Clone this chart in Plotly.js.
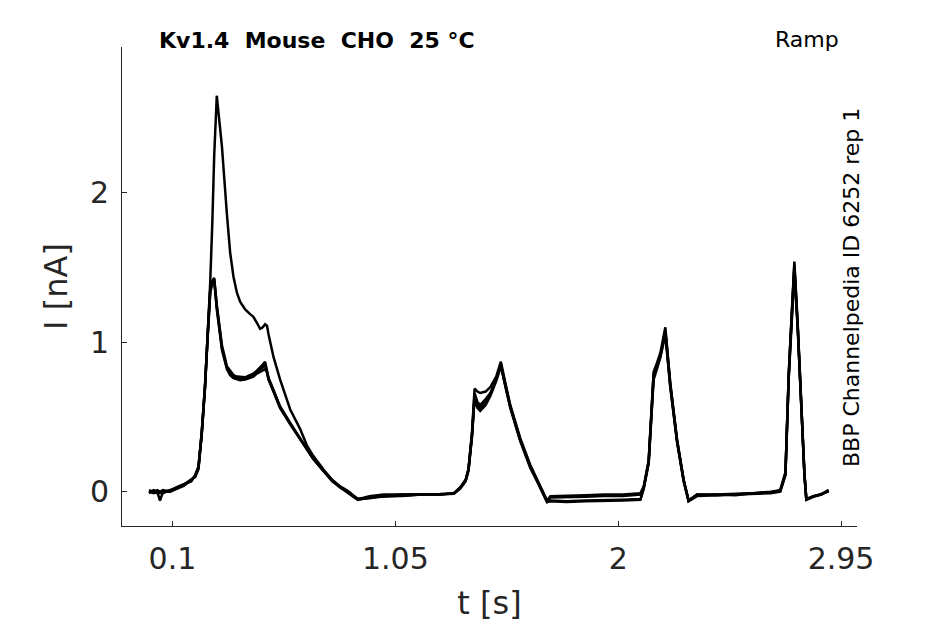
<!DOCTYPE html>
<html>
<head>
<meta charset="utf-8">
<script src="https://cdn.plot.ly/plotly-3.0.1.min.js"></script>
<style>
  html, body { margin: 0; padding: 0; background: #fff; }
  #chart { width: 945px; height: 624px; }
</style>
</head>
<body>
<div id="chart"></div>
<script>
// time of each sample [s], shared by all sweeps
var t = [
  0.000, 0.020, 0.035, 0.047, 0.060, 0.090, 0.120, 0.150, 0.180, 0.197,
  0.211, 0.225, 0.239, 0.250, 0.261, 0.270, 0.278, 0.289, 0.300, 0.311,
  0.332, 0.346, 0.360, 0.375, 0.389, 0.410, 0.430, 0.445, 0.460, 0.474,
  0.485, 0.495, 0.503, 0.510, 0.531, 0.559, 0.602, 0.644, 0.673, 0.700,
  0.743, 0.780, 0.814, 0.850, 0.890, 0.940, 1.000, 1.080, 1.160, 1.240,
  1.300, 1.327, 1.350, 1.362, 1.377, 1.388, 1.400, 1.412, 1.435, 1.455,
  1.480, 1.500, 1.520, 1.540, 1.582, 1.625, 1.667, 1.697, 1.711, 1.780,
  1.860, 1.940, 2.020, 2.095, 2.109, 2.130, 2.144, 2.151, 2.165, 2.180,
  2.201, 2.222, 2.251, 2.279, 2.300, 2.336, 2.420, 2.500, 2.580, 2.650,
  2.691, 2.713, 2.727, 2.741, 2.751, 2.765, 2.780, 2.794, 2.802, 2.833,
  2.865, 2.897
];

// current [nA], one array per sweep
var sweep1 = [
  0.00, -0.01, 0.00, -0.01, 0.00, 0.01, 0.02, 0.05, 0.08, 0.10,
  0.16, 0.40, 0.70, 1.05, 1.40, 1.80, 2.25, 2.65, 2.50, 2.31,
  1.86, 1.60, 1.44, 1.33, 1.27, 1.22, 1.19, 1.17, 1.13, 1.09,
  1.10, 1.12, 1.11, 1.05, 0.90, 0.75, 0.55, 0.42, 0.31, 0.24,
  0.15, 0.08, 0.035, 0.00, -0.05, -0.03, -0.02, -0.02, -0.015, -0.02,
  -0.01, 0.025, 0.08, 0.15, 0.40, 0.69, 0.67, 0.66, 0.67, 0.70,
  0.77, 0.87, 0.72, 0.58, 0.36, 0.18, 0.04, -0.06, -0.03, -0.03,
  -0.025, -0.02, -0.02, -0.01, 0.035, 0.21, 0.62, 0.80, 0.86, 0.93,
  1.10, 0.73, 0.35, 0.08, -0.06, -0.02, -0.02, -0.015, -0.01, -0.005,
  0.01, 0.12, 0.79, 1.24, 1.54, 1.13, 0.57, 0.12, -0.05, -0.03,
  -0.02, 0.01
];
var sweep2 = [
  0.01, 0.00, -0.01, 0.00, 0.01, 0.00, 0.03, 0.05, 0.07, 0.11,
  0.16, 0.38, 0.70, 1.05, 1.35, 1.41, 1.43, 1.25, 1.10, 0.98,
  0.84, 0.81, 0.78, 0.77, 0.77, 0.765, 0.78, 0.79, 0.81, 0.83,
  0.85, 0.87, 0.80, 0.76, 0.68, 0.57, 0.46, 0.36, 0.29, 0.22,
  0.14, 0.08, 0.035, 0.00, -0.05, -0.04, -0.03, -0.02, -0.02, -0.015,
  -0.01, 0.03, 0.08, 0.15, 0.38, 0.66, 0.60, 0.58, 0.62, 0.66,
  0.75, 0.85, 0.71, 0.57, 0.35, 0.17, 0.035, -0.065, -0.04, -0.04,
  -0.035, -0.03, -0.03, -0.02, 0.03, 0.20, 0.60, 0.78, 0.84, 0.91,
  1.08, 0.72, 0.34, 0.08, -0.06, -0.02, -0.025, -0.02, -0.01, 0.00,
  0.01, 0.13, 0.78, 1.22, 1.50, 1.12, 0.56, 0.11, -0.05, -0.03,
  -0.015, 0.00
];
var sweep3 = [
  -0.01, 0.01, 0.00, -0.06, 0.00, 0.00, 0.02, 0.04, 0.08, 0.10,
  0.15, 0.40, 0.72, 1.05, 1.33, 1.40, 1.41, 1.22, 1.07, 0.95,
  0.82, 0.78, 0.76, 0.75, 0.745, 0.75, 0.76, 0.77, 0.79, 0.80,
  0.81, 0.82, 0.80, 0.75, 0.67, 0.56, 0.45, 0.35, 0.28, 0.22,
  0.14, 0.07, 0.03, -0.01, -0.055, -0.04, -0.035, -0.025, -0.02, -0.02,
  -0.015, 0.02, 0.07, 0.14, 0.37, 0.62, 0.56, 0.54, 0.58, 0.64,
  0.74, 0.84, 0.70, 0.56, 0.34, 0.16, 0.03, -0.07, -0.06, -0.065,
  -0.06, -0.06, -0.055, -0.05, 0.02, 0.19, 0.58, 0.75, 0.82, 0.90,
  1.05, 0.70, 0.33, 0.07, -0.065, -0.03, -0.025, -0.02, -0.015, -0.01,
  0.00, 0.11, 0.76, 1.20, 1.46, 1.10, 0.55, 0.11, -0.055, -0.035,
  -0.02, 0.005
];
var sweep4 = [
  0.00, -0.005, 0.01, 0.00, -0.01, 0.01, 0.03, 0.05, 0.07, 0.11,
  0.17, 0.39, 0.71, 1.04, 1.34, 1.40, 1.42, 1.24, 1.08, 0.96,
  0.83, 0.79, 0.77, 0.76, 0.755, 0.76, 0.77, 0.785, 0.80, 0.82,
  0.83, 0.85, 0.79, 0.75, 0.67, 0.56, 0.455, 0.355, 0.285, 0.22,
  0.14, 0.075, 0.03, -0.005, -0.05, -0.045, -0.03, -0.03, -0.02, -0.02,
  -0.01, 0.025, 0.075, 0.15, 0.38, 0.64, 0.58, 0.56, 0.60, 0.65,
  0.75, 0.85, 0.70, 0.57, 0.35, 0.17, 0.03, -0.07, -0.065, -0.07,
  -0.065, -0.065, -0.06, -0.055, 0.025, 0.20, 0.59, 0.77, 0.83, 0.91,
  1.07, 0.71, 0.34, 0.075, -0.06, -0.025, -0.02, -0.025, -0.01, -0.005,
  0.005, 0.12, 0.77, 1.22, 1.52, 1.11, 0.56, 0.115, -0.05, -0.03,
  -0.02, 0.01
];

var xTicks = [0.1, 1.05, 2, 2.95];
var xTickText = ['0.1', '1.05', '2', '2.95'];
var yTicks = [0, 1, 2];

var sweeps = [sweep1, sweep2, sweep3, sweep4];
var data = sweeps.map(function (s) {
  return {
    x: t,
    y: s,
    type: 'scatter',
    mode: 'lines',
    line: {color: '#000000', width: 2.5},
    hoverinfo: 'skip'
  };
});

var ink = '#262626';
var font = 'DejaVu Sans';
var sp = '\u00a0\u00a0';

var layout = {
  width: 945,
  height: 624,
  showlegend: false,
  paper_bgcolor: '#ffffff',
  plot_bgcolor: '#ffffff',
  margin: {l: 122, r: 88, t: 47, b: 98},
  font: {family: font, color: ink},
  title: {
    text: '<b>Kv1.4' + sp + 'Mouse' + sp + 'CHO' + sp + '25 °C</b>',
    font: {family: font, size: 22, color: '#000000'},
    x: 159 / 945, xanchor: 'left', xref: 'container',
    y: 1 - 40 / 624, yanchor: 'middle', yref: 'container'
  },
  xaxis: {
    range: [-0.115, 3.018],
    tickvals: xTicks,
    ticktext: xTickText,
    ticks: 'inside',
    ticklen: 5,
    tickcolor: ink,
    ticklabelstandoff: 6,
    showline: true,
    linecolor: ink,
    linewidth: 1,
    showgrid: false,
    zeroline: false,
    tickfont: {family: font, size: 30, color: ink},
    title: {text: 't [s]', font: {family: font, size: 32, color: ink}, standoff: 16}
  },
  yaxis: {
    range: [-0.23, 2.976],
    tickvals: yTicks,
    ticks: 'inside',
    ticklen: 5,
    tickcolor: ink,
    ticklabelstandoff: 6,
    showline: true,
    linecolor: ink,
    linewidth: 1,
    showgrid: false,
    zeroline: false,
    tickfont: {family: font, size: 30, color: ink},
    title: {text: 'I [nA]', font: {family: font, size: 32, color: ink}, standoff: 12}
  },
  annotations: [
    {
      text: 'Ramp',
      xref: 'paper', yref: 'paper',
      x: (807 - 122) / 735, y: (526 - 40) / 479,
      xanchor: 'center', yanchor: 'middle',
      showarrow: false,
      font: {family: font, size: 22, color: '#000000'}
    },
    {
      text: 'BBP Channelpedia ID 6252 rep 1',
      xref: 'paper', yref: 'paper',
      x: (851 - 122) / 735, y: (526 - 288) / 479,
      xanchor: 'center', yanchor: 'middle',
      textangle: -90,
      showarrow: false,
      font: {family: font, size: 22, color: '#000000'}
    }
  ]
};

Plotly.newPlot('chart', data, layout, {displayModeBar: false, staticPlot: true});
</script>
</body>
</html>
